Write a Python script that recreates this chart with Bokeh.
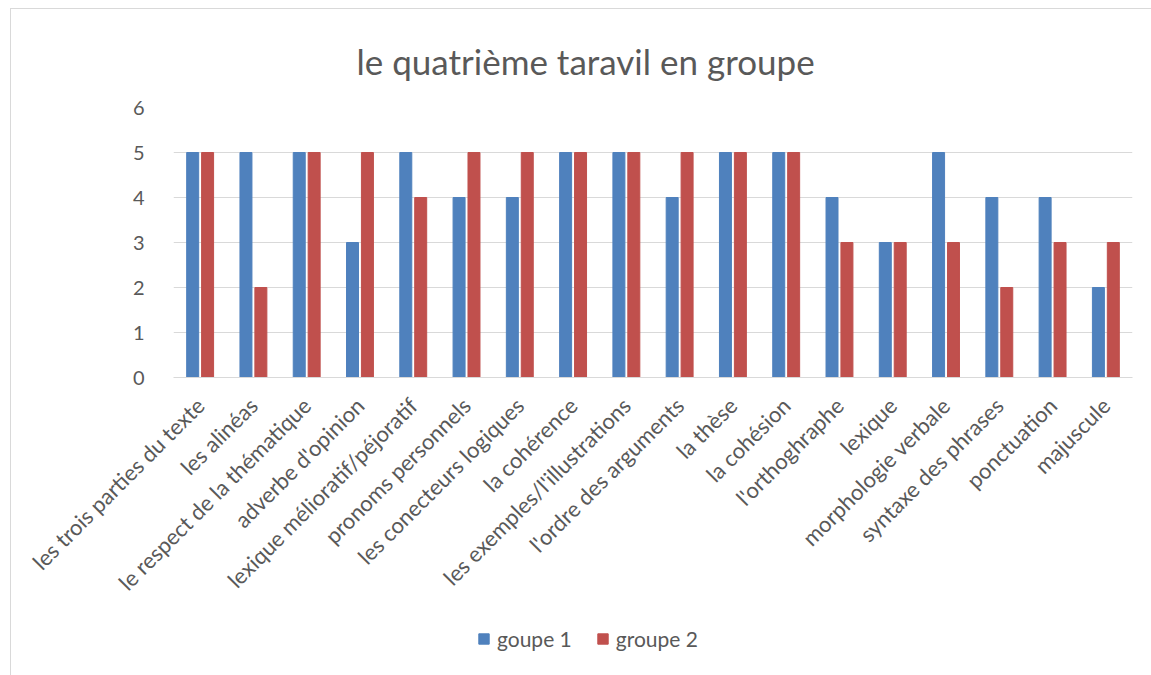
import math
from bokeh.plotting import figure
from bokeh.layouts import column
from bokeh.models import ColumnDataSource, Legend, LegendItem, FixedTicker, Range1d
from bokeh.transform import dodge
from bokeh.embed import file_html
from bokeh.resources import INLINE

categories = [
    "les trois parties du texte", "les alinéas", "le respect de la thématique",
    "adverbe d'opinion", "lexique mélioratif/péjoratif", "pronoms personnels",
    "les conecteurs logiques", "la cohérence", "les exemples/l'illustrations",
    "l'ordre des arguments", "la thèse", "la cohésion", "l'orthoghraphe",
    "lexique", "morphologie verbale", "syntaxe des phrases", "ponctuation",
    "majuscule",
]
groupe1 = [5, 5, 5, 3, 5, 4, 4, 5, 5, 4, 5, 5, 4, 3, 5, 4, 4, 2]
groupe2 = [5, 2, 5, 5, 4, 5, 5, 5, 5, 5, 5, 5, 3, 3, 3, 2, 3, 3]
series_names = ["goupe 1", "groupe 2"]
colors = ["#4F81BD", "#C0504D"]
y_ticks = [0, 1, 2, 3, 4, 5, 6]

FONT = "Lato"
TXT = "#595959"

src = ColumnDataSource(dict(cat=categories, g1=groupe1, g2=groupe2))

p = figure(
    x_range=categories, y_range=(0, 6),
    width=1140, height=615,
    output_backend="svg", toolbar_location=None,
    min_border_left=162, min_border_right=19,
    min_border_top=98, min_border_bottom=247,
)
p.x_range.range_padding = 0
p.outline_line_color = None

p.vbar(x=dodge("cat", -0.14, range=p.x_range), top="g1", width=0.225,
       source=src, color=colors[0])
p.vbar(x=dodge("cat", 0.14, range=p.x_range), top="g2", width=0.225,
       source=src, color=colors[1])

p.title.text = "le quatrième taravil en groupe"
p.title.align = "left"
p.title.text_font = FONT
p.title.text_font_style = "normal"
p.title.text_font_size = "35px"
p.title.text_color = TXT
p.title.offset = 183
p.title.standoff = 52

p.xgrid.grid_line_color = None
p.ygrid.grid_line_color = "#d9d9d9"
p.ygrid.grid_line_width = 1
p.yaxis.ticker = FixedTicker(ticks=y_ticks)

p.yaxis.axis_line_color = None
p.yaxis.major_tick_line_color = None
p.yaxis.minor_tick_line_color = None
p.yaxis.major_label_text_font = FONT
p.yaxis.major_label_text_font_size = "20px"
p.yaxis.major_label_text_color = TXT
p.yaxis.major_label_standoff = 23

p.xaxis.axis_line_color = "#d9d9d9"
p.xaxis.major_tick_line_color = None
p.xaxis.minor_tick_line_color = None
p.xaxis.major_label_orientation = math.pi / 4
p.xaxis.major_label_text_font = FONT
p.xaxis.major_label_text_font_size = "22px"
p.xaxis.major_label_text_color = TXT
p.xaxis.major_label_standoff = 18

# legend strip
lg = figure(width=1140, height=51, output_backend="svg", toolbar_location=None,
            x_range=Range1d(0, 1), y_range=Range1d(0, 1),
            min_border=0)
lg.axis.visible = False
lg.grid.grid_line_color = None
lg.outline_line_color = None
e1 = lg.vbar(x=[-5], top=[-4], bottom=[-5], width=0.1, color=colors[0])
e2 = lg.vbar(x=[-5], top=[-4], bottom=[-5], width=0.1, color=colors[1])
legend = Legend(
    items=[LegendItem(label=series_names[0], renderers=[e1]),
           LegendItem(label=series_names[1], renderers=[e2])],
    orientation="horizontal", location=(304, 24),
    label_text_font=FONT, label_text_font_size="21px", label_text_color=TXT,
    glyph_width=13, glyph_height=13, spacing=24, label_standoff=7,
    border_line_color=None, background_fill_alpha=0, padding=5, margin=0,
)
lg.add_layout(legend, "center")

layout = column(p, lg, spacing=0)
layout.styles = {"margin-left": "10px", "margin-top": "8px",
                 "border-left": "1px solid #d9d9d9", "border-top": "1px solid #d9d9d9"}

open("out.html", "w").write(file_html(layout, INLINE))
